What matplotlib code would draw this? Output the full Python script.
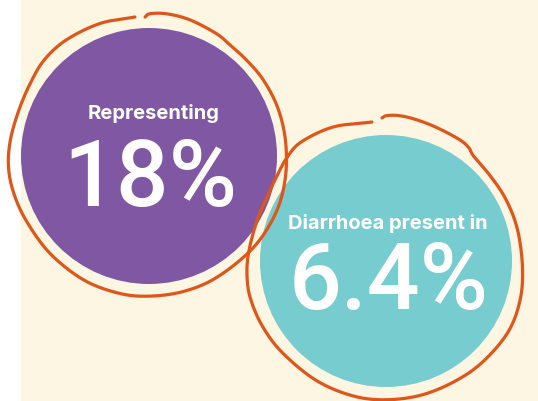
import numpy as np
import matplotlib
matplotlib.use("Agg")
import matplotlib.pyplot as plt
from matplotlib.patches import Circle, Rectangle

# ---- content ----
captions = ["Representing", "Diarrhoea present in"]
values = ["18%", "6.4%"]

# ---- style ----
BG = "#FDF6E2"
PURPLE = "#7F57A3"
TEAL = "#77CCCF"
ORANGE = "#DE561A"
fill_colors = [PURPLE, TEAL]

# hand-drawn ring profiles (angle in degrees, radius in px)
purple_ring_ang = [95.8, 110.2, 125.3, 137.2, 148, 160.4, 173.4, 184.5, 195.2, 207.7, 224.4, 242,
                   256.9, 269.2, 284, 299.3, 318.8, 336, 351.2, 366.7, 380.8, 393.7, 404.4, 413.4,
                   421.1, 433.2, 442.8, 449.6, 451.6]
purple_ring_rad = [139.7, 141.7, 142, 144.4, 137.9, 137, 139.9, 141.4, 141, 137.8, 138.6, 140.5,
                   140.7, 140, 140.2, 138.8, 138.2, 140.1, 137.6, 136.9, 138, 137, 137.2, 135.8,
                   140.5, 142, 144.1, 143, 139]
teal_ring_ang = [95.8, 111.6, 125.4, 133.6, 142.4, 152.9, 163.6, 176.7, 186.6, 196, 208.2, 221.8,
                 239.9, 256.4, 270.4, 285.4, 300.8, 314.4, 329.9, 343.8, 357.5, 373.3, 386.8,
                 398.9, 410.1, 413.6, 418.6, 429, 437.6, 444.5, 449.6, 451.6]
teal_ring_rad = [139.7, 144.1, 148.4, 143.6, 137.6, 133.7, 134.5, 138.2, 139.9, 141.5, 139.6, 138.1,
                 137.6, 140, 138, 139, 138.6, 138.6, 143.4, 139.6, 136.1, 134.6, 135.5, 133.7,
                 135.6, 141.6, 141.8, 142.4, 144.4, 146.7, 146, 143.1]
rings = [(purple_ring_ang, purple_ring_rad), (teal_ring_ang, teal_ring_rad)]

centers = [(149, 156), (386, 261)]
radii = [128, 126]


def catmull_rom(pts, n=20):
    pts = np.asarray(pts, float)
    p = np.vstack([2 * pts[0] - pts[1], pts, 2 * pts[-1] - pts[-2]])
    out = []
    t = np.linspace(0, 1, n, endpoint=False)[:, None]
    for i in range(1, len(p) - 2):
        p0, p1, p2, p3 = p[i - 1], p[i], p[i + 1], p[i + 2]
        seg = 0.5 * ((2 * p1) + (-p0 + p2) * t + (2 * p0 - 5 * p1 + 4 * p2 - p3) * t ** 2
                     + (-p0 + 3 * p1 - 3 * p2 + p3) * t ** 3)
        out.append(seg)
    out.append(p[-2][None, :])
    return np.vstack(out)


def soften(r):
    r = np.asarray(r, float)
    s = r.copy()
    s[1:-1] = 0.25 * r[:-2] + 0.5 * r[1:-1] + 0.25 * r[2:]
    return s


W, H = 538, 401
fig = plt.figure(figsize=(W / 100, H / 100), dpi=100)
ax = fig.add_axes([0, 0, 1, 1])
ax.set_xlim(0, W)
ax.set_ylim(H, 0)
ax.set_aspect("equal")
ax.axis("off")
fig.patch.set_facecolor("white")

ax.add_patch(Rectangle((21, 0), W - 21, H, facecolor=BG, edgecolor="none", zorder=0))

for (cx, cy), r, col in zip(centers, radii, fill_colors):
    ax.add_patch(Circle((cx, cy), r, facecolor=col, edgecolor="none", zorder=1))

for (cx, cy), (ang, rad) in zip(centers, rings):
    a = np.deg2rad(np.asarray(ang))
    rr = soften(rad)
    pts = np.column_stack([cx + rr * np.cos(a), cy - rr * np.sin(a)])
    curve = catmull_rom(pts)
    ax.plot(curve[:, 0], curve[:, 1], color=ORANGE, lw=2.3, solid_capstyle="round",
            solid_joinstyle="round", zorder=3)

cap_y = [119, 229]
val_y = [206, 309]
cap_x = [154, 388]
val_x = [150, 389]
for cx, vx, cy_c, cy_v, cap, val in zip(cap_x, val_x, cap_y, val_y, captions, values):
    ax.text(cx, cy_c, cap, color="white", fontsize=14.5, fontweight="bold", family="Inter",
            ha="center", va="baseline", zorder=4)
    ax.text(vx, cy_v, val, color="white", fontsize=67, fontweight="medium", family="Roboto",
            ha="center", va="baseline", zorder=4)

fig.savefig("out.png", dpi=100, facecolor="white")
